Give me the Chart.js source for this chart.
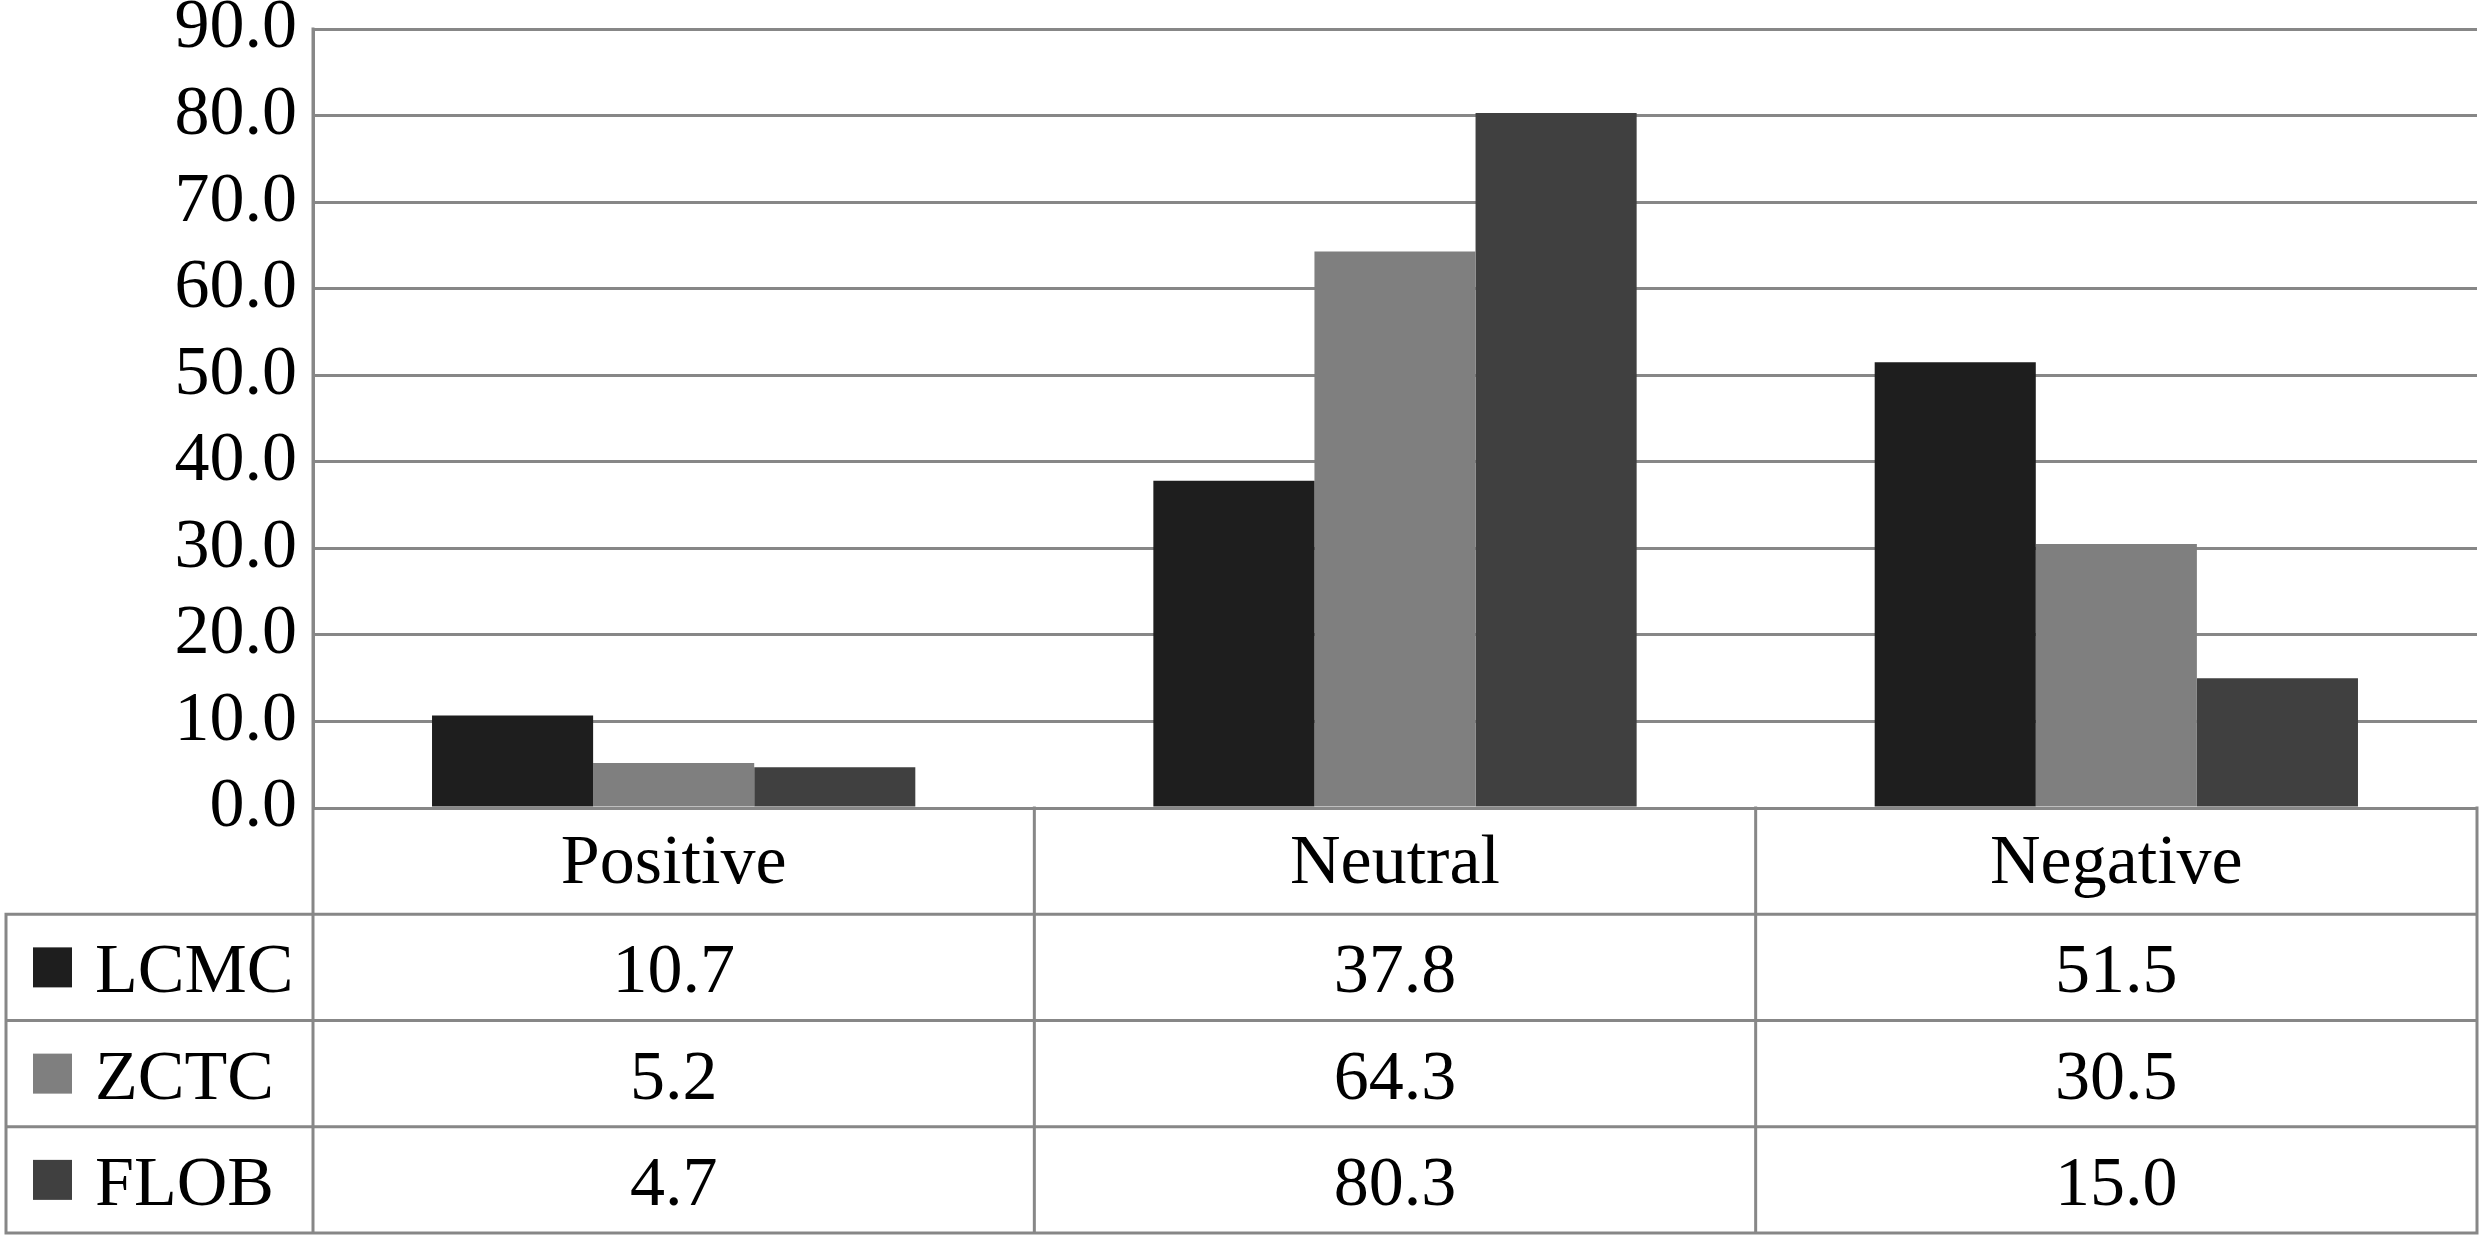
<!DOCTYPE html>
<html>
<head>
<meta charset="utf-8">
<script src="https://cdn.jsdelivr.net/npm/chart.js@4/dist/chart.umd.min.js"></script>
<style>
  html, body { margin: 0; padding: 0; background: #fff; }
  #wrap { width: 2480px; height: 1239px; }
</style>
</head>
<body>
<div id="wrap"><canvas id="c" width="2480" height="1239"></canvas></div>
<script>
// ---- data ----
const categories = ['Positive', 'Neutral', 'Negative'];
const seriesNames = ['LCMC', 'ZCTC', 'FLOB'];
const lcmcValues = [10.7, 37.8, 51.5];
const zctcValues = [5.2, 64.3, 30.5];
const flobValues = [4.7, 80.3, 15.0];
const yMin = 0;
const yMax = 90;
const yStep = 10;

// ---- styles ----
const seriesColors = ['#1e1e1e', '#7f7f7f', '#404040'];
const FONT = "'Liberation Serif', 'Times New Roman', serif";
const FONT_SIZE = 70;
const LINE_COLOR = '#878787';
const LINE_W = 3;

const seriesValues = [lcmcValues, zctcValues, flobValues];

const tablePlugin = {
  id: 'dataTable',
  afterDraw(chart) {
    const ctx = chart.ctx;
    const ca = chart.chartArea;
    const n = categories.length;
    const colW = (ca.right - ca.left) / n;
    const top = ca.bottom;
    const bottom = chart.height - 6;
    const legendLeft = 6;
    const rows = seriesNames.length + 1;
    const rowH = (bottom - top) / rows;

    ctx.save();
    ctx.strokeStyle = LINE_COLOR;
    ctx.lineWidth = LINE_W;
    ctx.lineCap = 'square';

    // vertical lines
    ctx.beginPath();
    ctx.moveTo(ca.left, ca.top);
    ctx.lineTo(ca.left, bottom);
    for (let i = 1; i <= n; i++) {
      const xx = ca.left + i * colW;
      ctx.moveTo(xx, top);
      ctx.lineTo(xx, bottom);
    }
    ctx.moveTo(legendLeft, top + rowH);
    ctx.lineTo(legendLeft, bottom);
    // horizontal lines
    for (let r = 1; r <= rows; r++) {
      const yy = top + r * rowH;
      ctx.moveTo(legendLeft, yy);
      ctx.lineTo(ca.right, yy);
    }
    ctx.stroke();

    ctx.fillStyle = '#000';
    ctx.font = FONT_SIZE + 'px ' + FONT;
    ctx.textBaseline = 'alphabetic';
    const baseOff = 25;

    // category header
    ctx.textAlign = 'center';
    categories.forEach((c, i) => {
      const cx = chart.scales.x.getPixelForValue(i);
      ctx.fillText(c, cx, top + rowH / 2 + baseOff - 3);
    });

    // rows
    seriesNames.forEach((name, s) => {
      const cy = top + (s + 1) * rowH + rowH / 2;
      ctx.fillStyle = seriesColors[s];
      ctx.fillRect(33, cy - 20, 39, 40);
      ctx.fillStyle = '#000';
      ctx.textAlign = 'left';
      ctx.fillText(name, 95, cy + baseOff);
      ctx.textAlign = 'center';
      seriesValues[s].forEach((v, i) => {
        const cx = chart.scales.x.getPixelForValue(i);
        ctx.fillText(v.toFixed(1), cx, cy + baseOff);
      });
    });
    ctx.restore();
  }
};

new Chart(document.getElementById('c'), {
  type: 'bar',
  data: {
    labels: categories,
    datasets: seriesNames.map((name, s) => ({
      label: name,
      data: seriesValues[s],
      backgroundColor: seriesColors[s],
      borderWidth: 0,
      barPercentage: 1.0,
      categoryPercentage: 0.67
    }))
  },
  options: {
    responsive: false,
    devicePixelRatio: 1,
    animation: false,
    layout: { padding: { top: 29, right: 3, bottom: 431, left: 0 } },
    plugins: {
      legend: { display: false },
      tooltip: { enabled: false },
      title: { display: false }
    },
    scales: {
      x: {
        display: false,
        grid: { display: false }
      },
      y: {
        min: yMin,
        max: yMax,
        afterFit: (s) => { s.width = 313; s.paddingTop = 0; s.paddingBottom = 0; },
        ticks: {
          stepSize: yStep,
          padding: 16,
          color: '#000',
          font: { family: FONT, size: FONT_SIZE, lineHeight: 0.8 },
          callback: (v) => Number(v).toFixed(1)
        },
        grid: { color: LINE_COLOR, lineWidth: LINE_W, drawTicks: false },
        border: { display: true, color: LINE_COLOR, width: LINE_W }
      }
    }
  },
  plugins: [tablePlugin]
});
</script>
</body>
</html>
